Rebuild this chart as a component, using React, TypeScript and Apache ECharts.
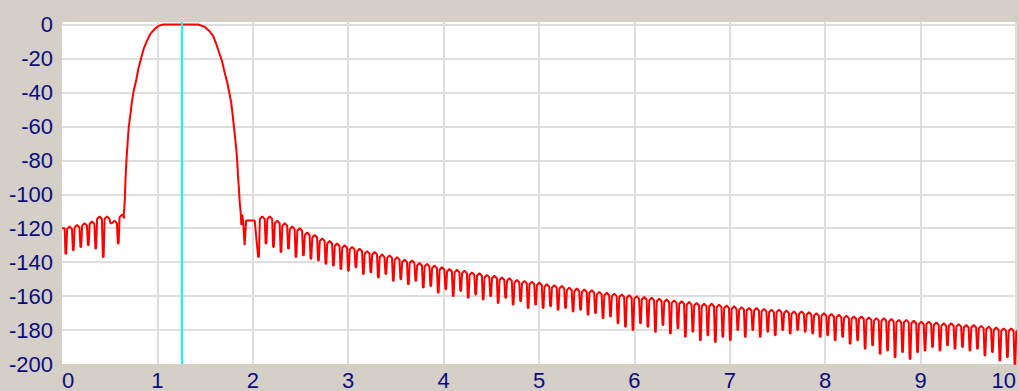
import React, { useEffect, useRef } from "react";
import * as echarts from "echarts";

// ---- Data ----
const xTicks = [0, 1, 2, 3, 4, 5, 6, 7, 8, 9, 10];
const yTicks = [0, -20, -40, -60, -80, -100, -120, -140, -160, -180, -200];

const markerFreq = 1.25;
const lobeSpacing = 0.0785;

// lower stop band
const lowStartLevel = -120;
const lowStart = 0.04;
const lowTroughs = [-135, -133, -131, -130, -132, -137, -117, -129];
const lowPeaks = [-119, -118, -117, -116, -113, -113, -115.5, -112];

// pass band and its two edges
const passX = [
  0.645, 0.658, 0.665, 0.675, 0.689, 0.699, 0.717, 0.734, 0.751, 0.776, 0.803, 0.831, 0.855,
  0.89, 0.925, 0.97, 1.011, 1.063, 1.428, 1.497, 1.549, 1.584, 1.618, 1.653, 1.677, 1.705,
  1.733, 1.757, 1.774, 1.792, 1.809, 1.826, 1.837, 1.844, 1.854, 1.862, 1.872, 1.88, 1.89,
  1.9, 1.914, 1.93, 2.02,
];
const passY = [
  -114, -104, -92, -80.5, -68.7, -60.8, -52.9, -45, -39.2, -33.3, -25.4, -19.5, -14.5, -9.6,
  -5.7, -2.7, -0.8, 0, 0, -1.4, -4.1, -6.7, -11.6, -17.5, -21.4, -28.3, -34.3, -41.1, -46.1,
  -54.9, -63.8, -72.7, -80.5, -88.4, -96.3, -104.1, -110, -118, -112, -117, -130, -115.5,
  -115.5,
];

// upper stop band
const highStart = 2.06;
const highTroughs = [
  -137, -129, -131, -134, -132, -137, -136, -138, -139, -141, -142, -144, -145,
  -143, -147, -146, -149, -147, -151, -150, -153, -151, -155, -154, -158,
  -156, -160, -157, -161, -159, -162, -160, -164, -161, -165, -163, -167,
  -165, -167, -166, -168, -167, -169, -168, -171, -170, -173, -172, -176,
  -178, -180, -176, -178, -181, -177, -182, -179, -184, -181, -186, -183,
  -187, -184, -186, -180, -184, -180, -184, -181, -183, -180, -182, -180,
  -181, -182, -184, -183, -186, -184, -188, -186, -191, -189, -194, -192,
  -196, -193, -197, -193, -192, -190, -192, -189, -191, -190, -192, -191,
  -195, -193, -198, -196, -200,
];
const highPeaks = [
  -113, -113, -115.5, -117, -119, -120, -122.5, -124, -126, -127.5, -129, -130, -131,
  -132, -133.5, -134, -135.5, -136, -137, -138.5, -139, -140.5, -141, -142, -143,
  -144, -144.5, -145, -146, -146.5, -147.5, -148, -149, -149.5, -150.5, -151, -151.5,
  -152, -153, -153.5, -154, -155, -155.5, -156, -156.5, -157.5, -158, -158.5, -159,
  -159.5, -160, -160.5, -161, -161.5, -162, -162.5, -163, -163.5, -164, -164.5, -164.5,
  -165, -165.5, -166, -166.5, -167, -167, -167.5, -168, -168, -168.5, -169, -169,
  -169.5, -170, -170, -170.5, -171, -171.5, -172, -172, -172.5, -173, -173, -173.5,
  -174, -174, -174.5, -175, -175, -175.5, -176, -176, -176.5, -177, -177, -177.5,
  -178, -178.5, -179, -179, -179.5,
];

function lobes(start: number, troughs: number[], peaks: number[]): number[][] {
  const pts: number[][] = [];
  for (let i = 0; i < troughs.length; i++) {
    const t = start + i * lobeSpacing;
    pts.push([t - lobeSpacing * 0.05, troughs[i]]);
    pts.push([t + lobeSpacing * 0.05, troughs[i]]);
    if (i < peaks.length) {
      pts.push([t + lobeSpacing * 0.18, peaks[i] - 1.5]);
      pts.push([t + lobeSpacing * 0.5, peaks[i]]);
      pts.push([t + lobeSpacing * 0.82, peaks[i] - 1.5]);
    }
  }
  return pts;
}

function buildResponse(): number[][] {
  const pts: number[][] = [
    [0, lowStartLevel],
    [lowStart - 0.012, lowStartLevel],
  ];
  pts.push(...lobes(lowStart, lowTroughs, lowPeaks));
  passX.forEach((x, i) => pts.push([x, passY[i]]));
  pts.push(...lobes(highStart, highTroughs, highPeaks));
  return pts;
}

const labelColor = "#0c0c80";
const fontFamily = "Arial, 'Liberation Sans', sans-serif";

export default function App() {
  const ref = useRef<HTMLDivElement>(null);
  useEffect(() => {
    if (!ref.current) return;
    const chart = echarts.init(ref.current, undefined, { renderer: "svg" });
    chart.setOption({
      animation: false,
      backgroundColor: "#d4d0c8",
      grid: {
        left: 62,
        right: -5,
        top: 22,
        bottom: 27,
        show: true,
        backgroundColor: "#ffffff",
        borderWidth: 0,
      },
      xAxis: {
        type: "value",
        min: xTicks[0],
        max: xTicks[xTicks.length - 1],
        interval: 1,
        axisLine: { show: false },
        axisTick: { show: false },
        axisLabel: {
          color: labelColor,
          fontSize: 22,
          fontFamily,
          margin: 5,
          alignMinLabel: "left",
          alignMaxLabel: "right",
        },
        splitLine: {
          show: true,
          showMinLine: false,
          lineStyle: { color: "#dedede", width: 2 },
        },
      },
      yAxis: {
        type: "value",
        min: yTicks[yTicks.length - 1],
        max: 1.5,
        interval: 20,
        axisLine: { show: false },
        axisTick: { show: false },
        axisLabel: {
          color: labelColor,
          fontSize: 22,
          fontFamily,
          margin: 9,
          showMaxLabel: false,
          formatter: (v: number) => (yTicks.includes(v) ? String(v) : ""),
        },
        splitLine: {
          show: true,
          showMaxLine: false,
          showMinLine: false,
          lineStyle: { color: "#dedede", width: 2 },
        },
      },
      series: [
        {
          type: "line",
          data: buildResponse(),
          showSymbol: false,
          symbol: "none",
          lineStyle: { color: "#ff0000", width: 2 },
          clip: true,
          markLine: {
            silent: true,
            symbol: ["none", "none"],
            label: { show: false },
            lineStyle: { color: "#00ffff", width: 2, type: "solid" },
            data: [{ xAxis: markerFreq }],
          },
        },
      ],
    });
    return () => chart.dispose();
  }, []);
  return (
    <div
      ref={ref}
      style={{ position: "fixed", left: 0, top: 0, width: 1019, height: 391 }}
    />
  );
}
